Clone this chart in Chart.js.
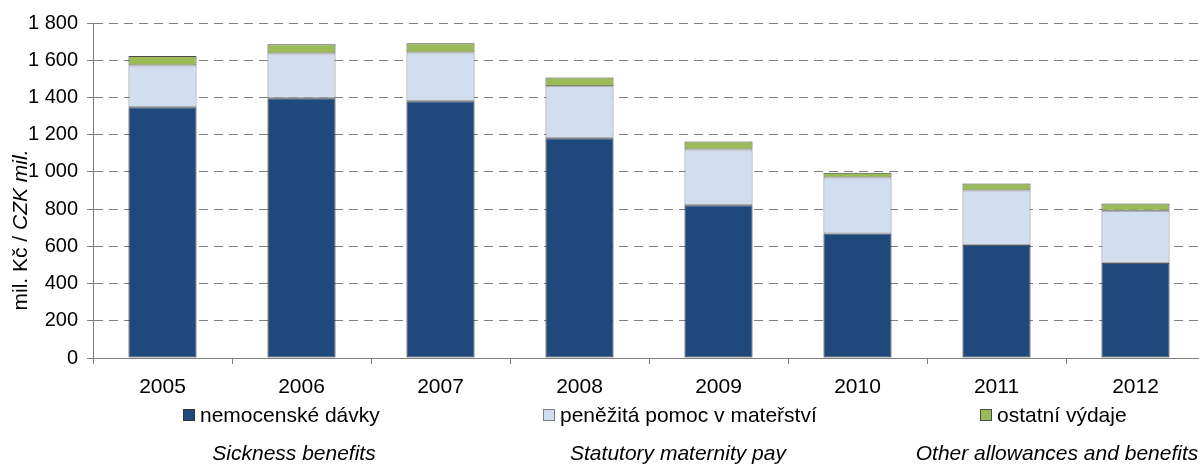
<!DOCTYPE html>
<html><head><meta charset="utf-8">
<script src="https://cdn.jsdelivr.net/npm/chart.js@4.4.0/dist/chart.umd.min.js"></script>
<style>
html,body{margin:0;padding:0;background:#fff;overflow:hidden;width:1199px;height:464px;}
#wrap{position:relative;width:1199px;height:464px;overflow:hidden;}
#c{position:absolute;left:0;top:0;}
.t{position:absolute;font-family:"Liberation Sans",Arial,sans-serif;font-size:21px;line-height:24px;color:#000;white-space:nowrap;}
.item{display:flex;align-items:center;top:403px;}
.box{width:10px;height:10px;border:1px solid #404040;margin-right:5px;}
.sub{font-style:italic;top:441px;transform:translateX(-50%);}
</style>
</head><body>
<div id="wrap">
<canvas id="c" width="1207" height="464" style="width:1207px;height:464px"></canvas>
</div>
<script>
const years = ['2005','2006','2007','2008','2009','2010','2011','2012'];
const sickness = [1347,1396,1380,1181,821,669,608,512];
const maternity = [224,240,261,279,299,301,292,279];
const other = [52,50,50,47,43,25,38,39];
const seriesLabels = ['nemocenské dávky','peněžitá pomoc v mateřství','ostatní výdaje'];
const englishLabels = ['Sickness benefits','Statutory maternity pay','Other allowances and benefits'];
const legendLefts = [183,543,980];
const englishCenters = [294,678,1057];
const yTitleNormal = 'mil. Kč / ';
const yTitleItalic = 'CZK mil.';

const fillColors = ['#1F497D','#D0DEEF','#9BBB59'];
const edgeColors = ['#333333','#7f7f7f','#4a4a4a'];
const FONT = '"Liberation Sans", Arial, sans-serif';

function fmt(v){ return String(v).replace(/\B(?=(\d{3})+(?!\d))/g,' '); }

const yTitlePlugin = {
  id:'yTitle',
  afterDraw(chart){
    const ctx = chart.ctx;
    ctx.save();
    ctx.translate(27,230);
    ctx.rotate(-Math.PI/2);
    ctx.fillStyle = '#000';
    ctx.textBaseline = 'alphabetic';
    ctx.textAlign = 'left';
    ctx.font = '21px ' + FONT;
    const w1 = ctx.measureText(yTitleNormal).width;
    ctx.font = 'italic 21px ' + FONT;
    const w2 = ctx.measureText(yTitleItalic).width;
    const x0 = -(w1+w2)/2;
    ctx.font = '21px ' + FONT;
    ctx.fillText(yTitleNormal, x0, 0);
    ctx.font = 'italic 21px ' + FONT;
    ctx.fillText(yTitleItalic, x0 + w1, 0);
    ctx.restore();
  }
};

const series = [sickness, maternity, other];
const chart = new Chart(document.getElementById('c'), {
  type:'bar',
  data:{
    labels: years,
    datasets: series.map((d,i)=>({
      label: seriesLabels[i],
      data: d,
      backgroundColor: fillColors[i],
      borderColor: edgeColors[i],
      borderWidth: 1,
      borderSkipped: false,
      barPercentage: 0.49,
      categoryPercentage: 1.0
    }))
  },
  options:{
    responsive:false,
    animation:false,
    devicePixelRatio:1,
    layout:{padding:{top:23,right:2,bottom:0,left:0}},
    plugins:{legend:{display:false},tooltip:{enabled:false},title:{display:false}},
    scales:{
      x:{
        stacked:true,
        grid:{offset:true,drawOnChartArea:false,drawTicks:true,tickLength:6,color:'#808080',tickColor:'#808080',lineWidth:1},
        border:{display:true,color:'#808080',width:1},
        ticks:{color:'#000',font:{family:FONT,size:21},padding:11,maxRotation:0,autoSkip:false},
        afterFit(s){ s.height = 106; }
      },
      y:{
        stacked:true,
        min:0,max:1800,
        ticks:{stepSize:200,color:'#000',font:{family:FONT,size:20},padding:9,callback:(v)=>fmt(v)},
        grid:{color:'#808080',lineWidth:1,tickLength:6,tickColor:'#808080',tickBorderDash:[],drawTicks:true},
        border:{display:true,color:'#808080',width:1,dash:[9,6]},
        afterFit(s){ s.width = 93; }
      }
    }
  },
  plugins:[yTitlePlugin]
});

// HTML legend built from the datasets
const wrap = document.getElementById('wrap');
chart.data.datasets.forEach((ds,i)=>{
  const it = document.createElement('div'); it.className='t item';
  it.style.left = legendLefts[i]+'px';
  const b = document.createElement('span'); b.className='box';
  b.style.background = ds.backgroundColor; b.style.borderColor = ds.borderColor;
  const tx = document.createElement('span'); tx.textContent = ds.label;
  it.appendChild(b); it.appendChild(tx); wrap.appendChild(it);
});
englishLabels.forEach((s,i)=>{
  const d = document.createElement('div'); d.className='t sub';
  d.style.left = englishCenters[i]+'px'; d.textContent = s;
  wrap.appendChild(d);
});
</script>
</body></html>
